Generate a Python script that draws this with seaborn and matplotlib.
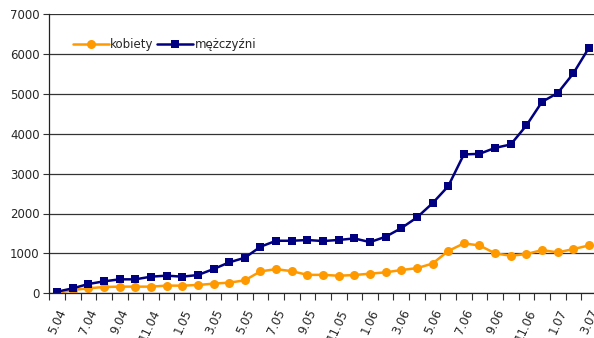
import matplotlib
matplotlib.use("Agg")
import matplotlib.pyplot as plt
import seaborn as sns
import pandas as pd
import numpy as np

months = ["5.04", "6.04", "7.04", "8.04", "9.04", "10.04", "11.04", "12.04",
          "1.05", "2.05", "3.05", "4.05", "5.05", "6.05", "7.05", "8.05", "9.05", "10.05", "11.05", "12.05",
          "1.06", "2.06", "3.06", "4.06", "5.06", "6.06", "7.06", "8.06", "9.06", "10.06", "11.06", "12.06",
          "1.07", "2.07", "3.07"]
kobiety = [10, 83, 125, 158, 167, 167, 167, 192, 192, 208, 242, 267, 325, 550, 605, 555, 462, 462, 440, 458,
           492, 525, 583, 630, 745, 1060, 1250, 1200, 1000, 942, 983, 1083, 1025, 1108, 1200]
mezczyzni = [40, 125, 233, 300, 350, 350, 417, 442, 417, 458, 608, 775, 892, 1167, 1317, 1317, 1335, 1310, 1337, 1375,
             1283, 1417, 1633, 1900, 2258, 2683, 3480, 3495, 3645, 3730, 4207, 4800, 5018, 5512, 6155]

df = pd.DataFrame({"idx": np.arange(len(months)), "kobiety": kobiety, "mężczyźni": mezczyzni})

sns.set_style("white")
plt.rcParams['font.family'] = ['DejaVu Sans']

fig = plt.figure(figsize=(5.94, 3.38), dpi=100)
ax = fig.add_axes([49.3/594, 1 - 293.3/338, (596.8 - 49.3)/594, (293.3 - 14)/338])

sns.lineplot(data=df, x="idx", y="kobiety", ax=ax, color="#FF9900", marker="o", markersize=6.5,
             markeredgewidth=0, linewidth=1.8, label="kobiety")
sns.lineplot(data=df, x="idx", y="mężczyźni", ax=ax, color="#000080", marker="s", markersize=6,
             markeredgewidth=0, linewidth=1.8, label="mężczyźni")

ax.set_xlim(-0.5, len(months) - 0.5)
ax.set_ylim(0, 7000)
ax.set_yticks(range(0, 7001, 1000))
ax.set_yticklabels([str(v) for v in range(0, 7001, 1000)], fontsize=8.5)
ax.yaxis.grid(True, color="#333333", linewidth=0.9)
ax.set_axisbelow(True)

ax.set_xticks(np.arange(0, len(months), 2))
ax.set_xticklabels(months[::2], rotation=65, ha="right", rotation_mode="anchor", fontsize=8.5)
ax.set_xticks(np.arange(-0.5, len(months), 1), minor=True)
ax.tick_params(axis="x", which="major", length=0, pad=10)
ax.tick_params(axis="x", which="minor", length=5, width=0.8, color="#333333", direction="out", bottom=True)
ax.tick_params(axis="y", which="major", length=4, width=0.8, color="#333333", direction="out", left=True, pad=3)

ax.set_xlabel("")
ax.set_ylabel("")
for s in ["top", "right"]:
    ax.spines[s].set_visible(False)
for s in ["left", "bottom"]:
    ax.spines[s].set_color("#222222")
    ax.spines[s].set_linewidth(0.9)

leg = ax.legend(loc="upper left", bbox_to_anchor=(0.035, 0.93), frameon=False, ncol=2,
                fontsize=8.5, handlelength=3.0, columnspacing=0.3, handletextpad=0.15, borderaxespad=0)

fig.savefig("out.png", dpi=100)
